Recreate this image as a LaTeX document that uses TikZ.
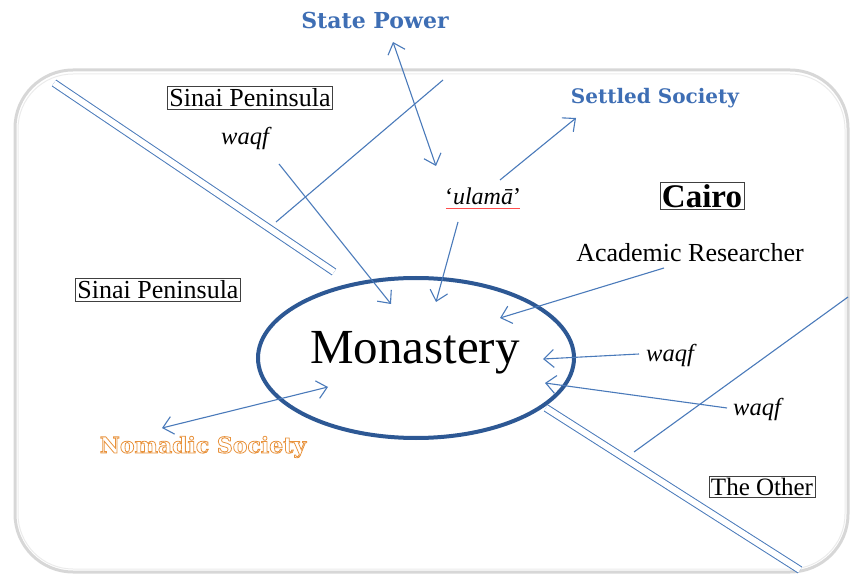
\documentclass[tikz,border=0pt]{standalone}
\usepackage{fontspec}
\setmainfont{Liberation Serif}
\newfontfamily\headfont{DejaVu Serif}
\usetikzlibrary{arrows.meta}
\definecolor{lineblue}{RGB}{74,122,186}
\definecolor{ellblue}{RGB}{45,88,148}
\definecolor{headblue}{RGB}{62,110,180}
\definecolor{nomorange}{RGB}{232,146,60}
\definecolor{framegray}{RGB}{215,215,215}
\begin{document}
\begin{tikzpicture}[x=1pt,y=-1pt,
  conn/.style={draw=lineblue,line width=1.1pt},
  arr/.style={conn,-{Straight Barb[length=10pt,width=18pt]}},
  darr/.style={conn,{Straight Barb[length=10pt,width=18pt]}-{Straight Barb[length=10pt,width=18pt]}},
  dbl/.style={draw=lineblue,line width=1pt,double=white,double distance=6pt},
  boxed/.style={draw=black!75,line width=0.8pt,inner sep=2pt,font=\fontsize{26}{28}\selectfont},
  plain/.style={font=\fontsize{26}{28}\selectfont,inner sep=1pt},
  wq/.style={font=\fontsize{24.5}{26}\selectfont\itshape,inner sep=1pt},
  head/.style={font=\headfont\bfseries\fontsize{20}{22}\selectfont,text=headblue,inner sep=1pt}]
\useasboundingbox (0,0) rectangle (852,577);
% frame
\draw[framegray,line width=3pt,rounded corners=58pt] (15,70) rectangle (848,572);
\draw[black!8,line width=1pt,rounded corners=55pt] (18,74) rectangle (845,569);
% double lines
\coordinate (l1) at (54,83);
\coordinate (l2) at (334,272);
\draw[dbl] (l1) -- (l2);
\coordinate (c1a) at (443,80);
\coordinate (c1b) at (276,222);
\draw[conn] (c1a) -- (c1b);
\coordinate (r1) at (546,408);
\coordinate (r2) at (800,570);
\draw[dbl] (r1) -- (r2);
\coordinate (c2a) at (848,297);
\coordinate (c2b) at (634,452);
\draw[conn] (c2a) -- (c2b);
% ellipse
\draw[ellblue,line width=4pt] (416,358) ellipse [x radius=158pt, y radius=80pt];
\node[font=\fontsize{49}{51}\selectfont,inner sep=0pt] (mon) at (415,353) {Monastery};
% labels
\node[head,font=\headfont\bfseries\fontsize{22}{24}\selectfont] (state) at (375,20) {State Power};
\node[head] (settled) at (655,98) {Settled Society};
\node[font=\headfont\bfseries\fontsize{22}{24}\selectfont,inner sep=1pt] (nomad) at (203,447)
  {\special{pdf:literal direct 1 Tr 0.8 w}\color{nomorange}Nomadic Society\special{pdf:literal direct 0 Tr}};
\node[boxed] (sinai1) at (250,98) {Sinai Peninsula};
\node[boxed] (sinai2) at (158,290) {Sinai Peninsula};
\node[wq] (waqf1) at (245,138) {waqf};
\node[font=\fontsize{24}{26}\selectfont,inner sep=1pt] (ulama) at (483,196) {‘\textit{ulamā}’};
\draw[red!70,line width=0.8pt] ([xshift=2pt,yshift=-3pt]ulama.south west) -- ([xshift=-2pt,yshift=-3pt]ulama.south east);
\node[boxed,font=\fontsize{33}{35}\selectfont\bfseries] (cairo) at (702,196) {Cairo};
\node[plain] (acad) at (690,253) {Academic Researcher};
\node[wq] (waqf2) at (670,355) {waqf};
\node[wq] (waqf3) at (757,409) {waqf};
\node[boxed,font=\fontsize{25}{27}\selectfont] (other) at (762,487) {The Other};
% arrow end points
\coordinate (sp1) at (393,42);
\coordinate (sp2) at (436,166);
\coordinate (w1s) at (279,164);
\coordinate (w1e) at (391,304);
\coordinate (uls) at (458,222);
\coordinate (ule) at (436,302);
\coordinate (sss) at (500,180);
\coordinate (sse) at (576,118);
\coordinate (acs) at (664,268);
\coordinate (ace) at (500,318);
\coordinate (w2s) at (639,354);
\coordinate (w2e) at (543,359);
\coordinate (w3s) at (727,408);
\coordinate (w3e) at (545,383);
\coordinate (nms) at (162,428);
\coordinate (nme) at (328,387);
\draw[darr] (sp1) -- (sp2);
\draw[arr] (w1s) -- (w1e);
\draw[arr] (uls) -- (ule);
\draw[arr] (sss) -- (sse);
\draw[arr] (acs) -- (ace);
\draw[arr] (w2s) -- (w2e);
\draw[arr] (w3s) -- (w3e);
\draw[darr] (nms) -- (nme);
\end{tikzpicture}
\end{document}
